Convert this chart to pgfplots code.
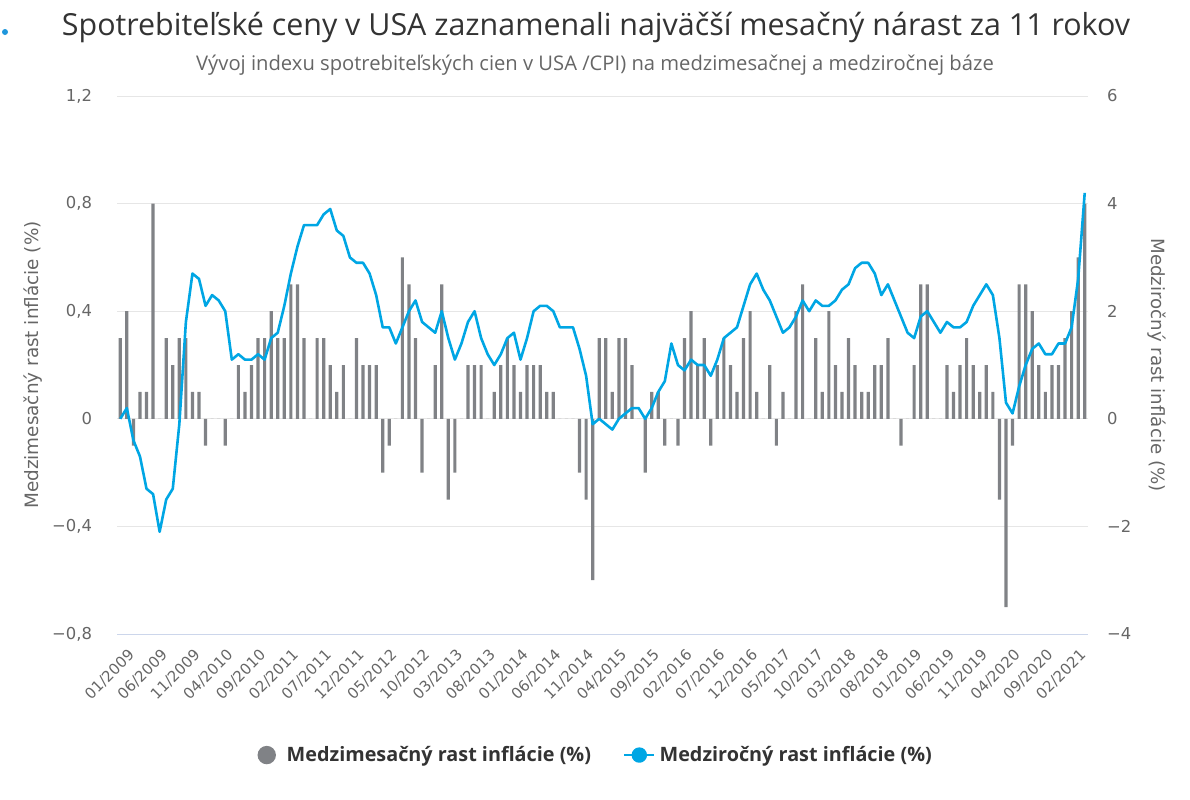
\documentclass[border=0pt]{standalone}
\usepackage{fontspec}
\setmainfont{Open Sans}
\newfontfamily\dv{DejaVu Sans}
\usepackage{pgfplots}
\usepackage{pgfplotstable}
\pgfplotsset{compat=1.18}
\definecolor{barc}{RGB}{128,130,134}
\definecolor{linec}{RGB}{0,166,228}
\definecolor{gridc}{RGB}{230,230,230}
\definecolor{axc}{RGB}{204,214,235}
\definecolor{labc}{RGB}{102,102,102}
\definecolor{titc}{RGB}{51,51,51}
\definecolor{dotc}{RGB}{30,150,220}

\pgfplotstableread{
i mom yoy
0 0.3 0.0
1 0.4 0.2
2 -0.1 -0.4
3 0.1 -0.7
4 0.1 -1.3
5 0.8 -1.4
6 0.0 -2.1
7 0.3 -1.5
8 0.2 -1.3
9 0.3 -0.1
10 0.3 1.8
11 0.1 2.7
12 0.1 2.6
13 -0.1 2.1
14 0.0 2.3
15 0.0 2.2
16 -0.1 2.0
17 0.0 1.1
18 0.2 1.2
19 0.1 1.1
20 0.2 1.1
21 0.3 1.2
22 0.3 1.1
23 0.4 1.5
24 0.3 1.6
25 0.3 2.1
26 0.5 2.7
27 0.5 3.2
28 0.3 3.6
29 0.0 3.6
30 0.3 3.6
31 0.3 3.8
32 0.2 3.9
33 0.1 3.5
34 0.2 3.4
35 0.0 3.0
36 0.3 2.9
37 0.2 2.9
38 0.2 2.7
39 0.2 2.3
40 -0.2 1.7
41 -0.1 1.7
42 0.0 1.4
43 0.6 1.7
44 0.5 2.0
45 0.3 2.2
46 -0.2 1.8
47 0.0 1.7
48 0.2 1.6
49 0.5 2.0
50 -0.3 1.5
51 -0.2 1.1
52 0.0 1.4
53 0.2 1.8
54 0.2 2.0
55 0.2 1.5
56 0.0 1.2
57 0.1 1.0
58 0.2 1.2
59 0.3 1.5
60 0.2 1.6
61 0.1 1.1
62 0.2 1.5
63 0.2 2.0
64 0.2 2.1
65 0.1 2.1
66 0.1 2.0
67 0.0 1.7
68 0.0 1.7
69 0.0 1.7
70 -0.2 1.3
71 -0.3 0.8
72 -0.6 -0.1
73 0.3 0.0
74 0.3 -0.1
75 0.1 -0.2
76 0.3 0.0
77 0.3 0.1
78 0.2 0.2
79 0.0 0.2
80 -0.2 0.0
81 0.1 0.2
82 0.1 0.5
83 -0.1 0.7
84 0.0 1.4
85 -0.1 1.0
86 0.3 0.9
87 0.4 1.1
88 0.2 1.0
89 0.3 1.0
90 -0.1 0.8
91 0.2 1.1
92 0.3 1.5
93 0.2 1.6
94 0.1 1.7
95 0.3 2.1
96 0.4 2.5
97 0.1 2.7
98 0.0 2.4
99 0.2 2.2
100 -0.1 1.9
101 0.1 1.6
102 0.0 1.7
103 0.4 1.9
104 0.5 2.2
105 0.0 2.0
106 0.3 2.2
107 0.1 2.1
108 0.4 2.1
109 0.2 2.2
110 0.1 2.4
111 0.3 2.5
112 0.2 2.8
113 0.1 2.9
114 0.1 2.9
115 0.2 2.7
116 0.2 2.3
117 0.3 2.5
118 0.0 2.2
119 -0.1 1.9
120 0.0 1.6
121 0.2 1.5
122 0.5 1.9
123 0.5 2.0
124 0.0 1.8
125 0.0 1.6
126 0.2 1.8
127 0.1 1.7
128 0.2 1.7
129 0.3 1.8
130 0.2 2.1
131 0.1 2.3
132 0.2 2.5
133 0.1 2.3
134 -0.3 1.5
135 -0.7 0.3
136 -0.1 0.1
137 0.5 0.6
138 0.5 1.0
139 0.4 1.3
140 0.2 1.4
141 0.1 1.2
142 0.2 1.2
143 0.2 1.4
144 0.3 1.4
145 0.4 1.7
146 0.6 2.6
147 0.8 4.2
}\cpidata

\begin{document}
\begin{tikzpicture}
\path[use as bounding box] (0,0) rectangle (595bp,-400bp);
\node[font=\fontsize{15.2bp}{18bp}\selectfont, text=titc] at (298bp,-14bp) {Spotrebiteľské ceny v USA zaznamenali najväčší mesačný nárast za 11 rokov};
\node[font=\fontsize{10.1bp}{12bp}\selectfont, text=labc] at (297.5bp,-32.5bp) {Vývoj indexu spotrebiteľských cien v USA /CPI) na medzimesačnej a medziročnej báze};
\fill[dotc] (2.5bp,-16bp) circle (1.5bp);

\begin{axis}[
  at={(58.5bp,-317bp)}, anchor=south west,
  scale only axis, width=485.5bp, height=269bp,
  xmin=-0.5, xmax=147.5, ymin=-0.8, ymax=1.2,
  axis x line*=bottom, axis y line*=left,
  x axis line style={draw=axc, line width=0.5bp, -},
  y axis line style={draw=none},
  major tick length=0pt,
  ymajorgrids, grid style={draw=gridc, line width=0.5bp},
  ytick={-0.8,-0.4,0,0.4,0.8,1.2},
  yticklabels={{−0,8},{−0,4},{0},{0,4},{0,8},{1,2}},
  yticklabel style={font=\dv\fontsize{8.2bp}{10bp}\selectfont, text=labc, xshift=-9bp},
  xtick={0,5,...,145},
  xticklabels={01/2009,06/2009,11/2009,04/2010,09/2010,02/2011,07/2011,12/2011,05/2012,10/2012,03/2013,08/2013,01/2014,06/2014,11/2014,04/2015,09/2015,02/2016,07/2016,12/2016,05/2017,10/2017,03/2018,08/2018,01/2019,06/2019,11/2019,04/2020,09/2020,02/2021},
  xticklabel style={font=\dv\fontsize{7.5bp}{9bp}\selectfont, text=labc, rotate=45, anchor=north east, yshift=-4bp, xshift=1bp},
  ylabel={Medzimesačný rast inflácie (\%)},
  ylabel style={font=\dv\fontsize{9.2bp}{11bp}\selectfont, text=labc, at={(axis description cs:-0.0866,0.5)}, anchor=center},
]
\addplot[ybar, bar width=1.6bp, fill=barc, draw=none] table[x=i, y=mom] {\cpidata};
\end{axis}

\begin{axis}[
  at={(58.5bp,-317bp)}, anchor=south west,
  scale only axis, width=485.5bp, height=269bp,
  xmin=-0.5, xmax=147.5, ymin=-4, ymax=6,
  axis x line=none, axis y line*=right,
  y axis line style={draw=none},
  major tick length=0pt,
  ytick={-4,-2,0,2,4,6},
  yticklabels={{−4},{−2},{0},{2},{4},{6}},
  yticklabel style={font=\dv\fontsize{8.2bp}{10bp}\selectfont, text=labc, xshift=6bp},
  ylabel={Medziročný rast inflácie (\%)},
  ylabel style={font=\dv\fontsize{9.1bp}{11bp}\selectfont, text=labc, at={(axis description cs:1.0711,0.5)}, anchor=center, rotate=180},
  legend columns=2,
  legend style={at={(0.494,-0.225)}, anchor=center, draw=none, fill=none,
    font=\fontsize{9.9bp}{12bp}\selectfont\bfseries, text=titc,
    /tikz/every even column/.append style={column sep=14bp}},
]
\addlegendimage{draw=none, legend image code/.code={\fill[barc, draw=none] (0,0) circle (4.6bp); \path[draw=none] (-4.6bp,0) -- (8bp,0);}}
\addlegendentry{Medzimesačný rast inflácie (\%)}
\addplot[linec, line width=1.3bp, line join=round, mark=none,
  legend image code/.code={\draw[linec, line width=1.3bp] (0,0) -- (15bp,0); \fill[linec] (7.5bp,0) circle (3.2bp);}]
  table[x=i, y=yoy] {\cpidata};
\addlegendentry{Medziročný rast inflácie (\%)}
\end{axis}
\end{tikzpicture}
\end{document}
